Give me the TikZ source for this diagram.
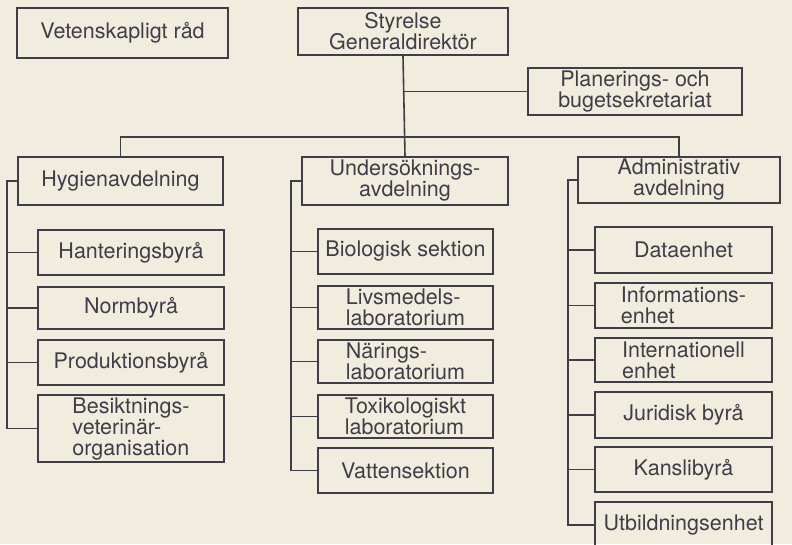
\documentclass[tikz,border=0pt]{standalone}
\usepackage{fontspec}
\setmainfont{TeX Gyre Heros}
\usepackage{xcolor}
\usepackage{tikz}
\usetikzlibrary{positioning, calc}
\definecolor{paper}{RGB}{240,237,222}
\definecolor{ink}{RGB}{66,60,72}

\begin{document}
\begin{tikzpicture}[
    x=1pt, y=-1pt,
    box/.style={rectangle, draw=ink, line width=1.6pt, text=ink, inner sep=0pt, align=center, font=\fontsize{21.5}{21}\selectfont},
    lbox/.style={box, align=left},
    link/.style={draw=ink, line width=1.6pt},
]

% Paper
\fill[paper] (0,0) rectangle (792,544);
\clip (0,0) rectangle (792,544);

% Top level
\node[box, minimum width=211pt, minimum height=50pt] (vet) at (122.5,33) {Vetenskapligt råd};
\node[box, minimum width=210pt, minimum height=47pt] (sty) at (403,31.5) {Styrelse\\Generaldirektör};
\node[box, minimum width=214pt, minimum height=47pt] (plan) at (635,91.5) {Planerings- och\\bugetsekretariat};

% Departments
\node[box, minimum width=205pt, minimum height=48pt] (hyg) at (120.5,181) {Hygienavdelning};
\node[box, minimum width=206pt, minimum height=48pt] (und) at (405,181) {Undersöknings-\\avdelning};
\node[box, minimum width=202pt, minimum height=46pt] (adm) at (679,180) {Administrativ\\avdelning};

% Hygienavdelning units
\node[box, minimum width=186pt, minimum height=45pt] (hant) at (131,252.5) {Hanteringsbyrå};
\node[box, minimum width=186pt, minimum height=42pt] (norm) at (131,308) {Normbyrå};
\node[box, minimum width=186pt, minimum height=45pt] (prod) at (131,362.5) {Produktionsbyrå};
\node[lbox, minimum width=186pt, minimum height=67pt] (besi) at (131,428.5) {Besiktnings-\\veterinär-\\organisation};

% Undersökningsavdelning units
\node[box, minimum width=175pt, minimum height=45pt] (bio) at (405.5,251.5) {Biologisk sektion};
\node[lbox, minimum width=175pt, minimum height=43pt] (liv) at (405.5,307.5) {Livsmedels-\\laboratorium};
\node[lbox, minimum width=175pt, minimum height=43pt] (nar) at (405.5,361.5) {Närings-\\laboratorium};
\node[lbox, minimum width=175pt, minimum height=43pt] (tox) at (405.5,416.5) {Toxikologiskt\\laboratorium};
\node[box, minimum width=175pt, minimum height=45pt] (vat) at (405.5,470.5) {Vattensektion};

% Administrativ avdelning units
\node[box, minimum width=177pt, minimum height=46pt] (data) at (683.5,250) {Dataenhet};
\node[lbox, minimum width=177pt, minimum height=45pt] (info) at (683.5,305.5) {Informations-\\enhet};
\node[lbox, minimum width=177pt, minimum height=44pt] (intl) at (683.5,360) {Internationell\\enhet};
\node[box, minimum width=177pt, minimum height=46pt] (jur) at (683.5,415) {Juridisk byrå};
\node[box, minimum width=177pt, minimum height=45pt] (kans) at (683.5,469.5) {Kanslibyrå};
\node[box, minimum width=177pt, minimum height=46pt] (utb) at (683.5,525) {Utbildningsenhet};

% Head links
\draw[link] (sty.south) -- (und.north);
\draw[link] (sty.south |- plan.west) -- (plan.west);
\draw[link] (hyg.north) -- ++(0,-19) -| (adm.north);

% Unit trunks
\draw[link] (hyg.west) -- ++(-10,0) coordinate (htrunk) |- (besi.west);
\draw[link] (und.west) -- ++(-10,0) coordinate (utrunk) |- (vat.west);
\draw[link] (adm.west) -- ++(-9,0) coordinate (atrunk) |- (utb.west);

\foreach \u in {hant, norm, prod}
    \draw[link] (htrunk |- \u.west) -- (\u.west);
\foreach \u in {bio, liv, nar, tox}
    \draw[link] (utrunk |- \u.west) -- (\u.west);
\foreach \u in {data, info, intl, jur, kans}
    \draw[link] (atrunk |- \u.west) -- (\u.west);

\end{tikzpicture}
\end{document}
